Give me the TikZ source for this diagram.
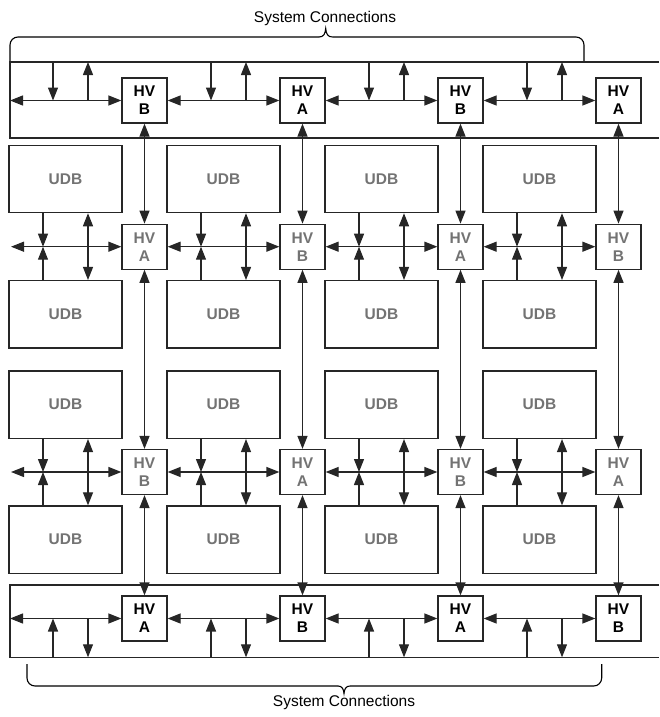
\documentclass[tikz,border=0pt]{standalone}
\usepackage{fontspec}
\setmainfont{Liberation Sans}
\usetikzlibrary{arrows.meta}
\begin{document}
\begin{tikzpicture}[x=1pt,y=-1pt,
  ln/.style={draw=black!85, line width=1.2pt},
  arr/.style={ln, -{Triangle[length=13pt,width=10pt]}},
  darr/.style={ln, {Triangle[length=13pt,width=10pt]}-{Triangle[length=13pt,width=10pt]}},
  hvbox/.style={ln, fill=white, minimum width=45pt, minimum height=45pt, inner sep=0pt, align=center, font=\fontsize{15.5}{18}\selectfont\bfseries},
  hvmid/.style={hvbox, text=black!55},
  udb/.style={ln, minimum width=113pt, minimum height=67.5pt, inner sep=0pt, font=\fontsize{15.5}{18}\selectfont\bfseries, text=black!55},
  lbl/.style={font=\fontsize{15.5}{18}\selectfont, inner sep=0pt},
  brace/.style={draw=black, line width=1.1pt, rounded corners=8pt}
]
\useasboundingbox (0,0) rectangle (659,717);

% labels
\node[lbl] (lblT) at (325,18) {System Connections};
\node[lbl] (lblB) at (344,702) {System Connections};

% braces
\draw[brace] (10,61) -- (10,37) -- (319,37);
\draw[draw=black, line width=1.1pt] (319,37) .. controls (323.5,37) and (325.3,34) .. (325.7,28.5) .. controls (326.1,34) and (327.9,37) .. (332.4,37);
\draw[brace] (332.4,37) -- (584,37) -- (584,61);
\draw[brace] (27,664) -- (27,686) -- (338,686);
\draw[draw=black, line width=1.1pt] (338,686) .. controls (342,686) and (343.6,689) .. (344,693.5) .. controls (344.4,689) and (346,686) .. (350,686);
\draw[brace] (350,686) -- (601.7,686) -- (601.7,664);

% bands
\coordinate (tbR1) at (659,62); \coordinate (tbL1) at (10,62);
\coordinate (tbL2) at (10,138); \coordinate (tbR2) at (659,138);
\draw[ln] (tbR1) -- (tbL1) -- (tbL2) -- (tbR2);
\coordinate (bbR1) at (659,585); \coordinate (bbL1) at (10,585);
\coordinate (bbL2) at (10,657.3); \coordinate (bbR2) at (659,657.3);
\draw[ln] (bbR1) -- (bbL1) -- (bbL2) -- (bbR2);

% HV boxes and UDBs
\foreach \c/\tl/\ml/\nl/\bl in {0/B/A/B/A, 1/A/B/A/B, 2/B/A/B/A, 3/A/B/A/B} {
  \pgfmathsetmacro{\X}{144.5+158*\c}
  \node[hvbox] (hvT\c) at (\X,100.5) {HV\\\tl};
  \node[hvmid] (hvM\c) at (\X,246.7) {HV\\\ml};
  \node[hvmid] (hvN\c) at (\X,472) {HV\\\nl};
  \node[hvbox] (hvB\c) at (\X,618.5) {HV\\\bl};
  \node[udb] (ua\c) at (\X-79,178.9) {UDB};
  \node[udb] (ub\c) at (\X-79,314.3) {UDB};
  \node[udb] (uc\c) at (\X-79,404.7) {UDB};
  \node[udb] (ud\c) at (\X-79,539.7) {UDB};
  % long verticals
  \draw[darr] (hvT\c.south) -- (hvM\c.north);
  \draw[darr] (hvM\c.south) -- (hvN\c.north);
  \draw[darr] (hvN\c.south) -- (hvB\c.north);
  % top band verticals
  \coordinate (td\c) at (\X-91.5,100.5);
  \coordinate (tu\c) at (\X-56.5,100.5);
  \draw[arr] (tbL1 -| td\c) -- (td\c);
  \draw[arr] (tu\c) -- (tbL1 -| tu\c);
  % bottom band verticals
  \coordinate (bu\c) at (\X-91.5,618.5);
  \coordinate (bd\c) at (\X-56.5,618.5);
  \draw[arr] (bbL2 -| bu\c) -- (bu\c);
  \draw[arr] (bd\c) -- (bbL2 -| bd\c);
  % middle row 1 verticals
  \coordinate (ms\c) at (\X-101.5,246.7);
  \coordinate (md\c) at (\X-56.5,246.7);
  \draw[arr] (ua\c.south -| ms\c) -- (ms\c);
  \draw[arr] (ub\c.north -| ms\c) -- (ms\c);
  \draw[darr] (ua\c.south -| md\c) -- (ub\c.north -| md\c);
  % middle row 2 verticals
  \coordinate (ns\c) at (\X-101.5,472);
  \coordinate (nd\c) at (\X-56.5,472);
  \draw[arr] (uc\c.south -| ns\c) -- (ns\c);
  \draw[arr] (ud\c.north -| ns\c) -- (ns\c);
  \draw[darr] (uc\c.south -| nd\c) -- (ud\c.north -| nd\c);
}

% horizontal arrows
\coordinate (tL) at (10,100.5);
\coordinate (mL) at (11,246.7);
\coordinate (nL) at (11,472);
\coordinate (bL) at (10,618.5);
\draw[darr] (tL) -- (hvT0.west);
\draw[darr] (mL) -- (hvM0.west);
\draw[darr] (nL) -- (hvN0.west);
\draw[darr] (bL) -- (hvB0.west);
\foreach \p/\c in {0/1,1/2,2/3} {
  \draw[darr] (hvT\p.east) -- (hvT\c.west);
  \draw[darr] (hvM\p.east) -- (hvM\c.west);
  \draw[darr] (hvN\p.east) -- (hvN\c.west);
  \draw[darr] (hvB\p.east) -- (hvB\c.west);
}
\end{tikzpicture}
\end{document}
